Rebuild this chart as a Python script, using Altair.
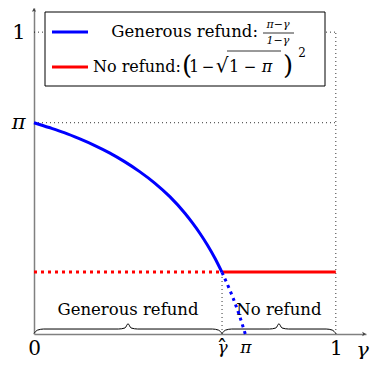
import altair as alt
import pandas as pd

# ---- values ----
PI = 0.70            # threshold pi
GAMMA_HAT = 0.623    # crossing point gamma-hat
NO_REFUND = 0.205    # (1 - sqrt(1 - pi))^2

gen_solid_x = [0.0, 0.05, 0.10, 0.15, 0.20, 0.25, 0.30, 0.35, 0.40, 0.45, 0.50, 0.525, 0.55, 0.575, 0.60, 0.623]
gen_solid_y = [0.700, 0.684, 0.667, 0.647, 0.625, 0.600, 0.571, 0.538, 0.500, 0.455, 0.400, 0.368, 0.333, 0.294, 0.250, 0.204]
gen_dot_x = [0.623, 0.65, 0.66, 0.68, 0.70]
gen_dot_y = [0.204, 0.143, 0.118, 0.063, 0.0]
no_dot_x = [0.0, GAMMA_HAT]
no_solid_x = [GAMMA_HAT, 1.0]

x_tick_values = [0.0, GAMMA_HAT, PI, 1.0]
y_tick_values = [PI, 1.0]
region_labels = ["Generous refund", "No refund"]
region_bounds = [(0.0, GAMMA_HAT), (GAMMA_HAT, 1.0)]

FONT = "DejaVu Serif"
BLUE = "#0000ff"
RED = "#ff0000"

# ---- tables ----
gen_solid = pd.DataFrame({"x": gen_solid_x, "y": gen_solid_y})
gen_dot = pd.DataFrame({"x": gen_dot_x, "y": gen_dot_y})
no_dot = pd.DataFrame({"x": no_dot_x, "y": [NO_REFUND] * 2})
no_solid = pd.DataFrame({"x": no_solid_x, "y": [NO_REFUND] * 2})

guides = pd.DataFrame({
    "x": [0.0, 1.0, 0.0, GAMMA_HAT],
    "x2": [1.0, 1.0, 1.0, GAMMA_HAT],
    "y": [1.0, 0.0, PI, 0.0],
    "y2": [1.0, 1.0, PI, NO_REFUND],
})

# brace shapes built from the region bounds
brace_rows = []
for k, (a, b) in enumerate(region_bounds):
    m = (a + b) / 2
    pts = [(a, 0.002), (a + 0.012, 0.013), (a + 0.032, 0.0165), (m - 0.032, 0.0165),
           (m - 0.01, 0.02), (m, 0.034), (m + 0.01, 0.02), (m + 0.032, 0.0165),
           (b - 0.032, 0.0165), (b - 0.012, 0.013), (b, 0.002)]
    for i, (px, py) in enumerate(pts):
        brace_rows.append({"brace": k, "o": i, "x": px, "y": py})
braces = pd.DataFrame(brace_rows)
region_text = pd.DataFrame({
    "label": region_labels,
    "x": [(a + b) / 2 for a, b in region_bounds],
    "y": [0.078, 0.078],
})

XS = alt.Scale(domain=[0, 1.1], nice=False, zero=False)
YS = alt.Scale(domain=[0, 1.08], nice=False, zero=False)

x_axis = alt.Axis(
    values=x_tick_values, ticks=False, grid=False, domainColor="#808080", domainWidth=1.5,
    labelExpr="datum.value < 0.01 ? '0' : datum.value > 0.99 ? '1' : datum.value < 0.66 ? 'γ' : 'π'",
    labelFont=FONT, labelColor="black",
    labelPadding={"condition": {"test": "datum.value > 0.01 && datum.value < 0.99", "value": 5}, "value": 4},
    labelFontSize={"condition": {"test": "datum.value > 0.01 && datum.value < 0.99", "value": 17}, "value": 20},
    labelFontStyle={"condition": {"test": "datum.value > 0.01 && datum.value < 0.99", "value": "italic"}, "value": "normal"},
    title="γ", titleFont=FONT, titleFontSize=21, titleFontStyle="italic", titleFontWeight="normal",
    titleX=328, titleY=16, titleAlign="center", titleBaseline="middle", titleColor="black",
    labelFlush=False, labelOverlap=False,
)
y_axis = alt.Axis(
    values=y_tick_values, ticks=False, grid=False, domainColor="#808080", domainWidth=1.5,
    labelExpr="datum.value > 0.9 ? '1' : 'π'",
    labelFont=FONT, labelColor="black", labelPadding=9, labelFontSize=21,
    labelFontStyle={"condition": {"test": "datum.value < 0.9", "value": "italic"}, "value": "normal"},
    title=None, labelFlush=False, labelOverlap=False,
)

base_axes = alt.Chart(pd.DataFrame({"x": [0.0], "y": [0.0]})).mark_point(opacity=0).encode(
    x=alt.X("x:Q", scale=XS, axis=x_axis),
    y=alt.Y("y:Q", scale=YS, axis=y_axis),
)

# hat over the gamma label
hat = alt.Chart(pd.DataFrame({"x": [GAMMA_HAT]})).mark_text(
    text="ˆ", font=FONT, fontSize=22, baseline="middle", color="black"
).encode(x=alt.X("x:Q", scale=XS), y=alt.value(341))

guide_layer = alt.Chart(guides).mark_rule(color="black", strokeWidth=0.8, strokeDash=[1, 3]).encode(
    x=alt.X("x:Q", scale=XS), x2="x2:Q", y=alt.Y("y:Q", scale=YS), y2="y2:Q"
)


def line(df, color, dash):
    kw = dict(color=color, strokeWidth=3, interpolate="monotone", strokeCap="butt")
    if dash:
        kw["strokeDash"] = [3, 4]
    return alt.Chart(df).mark_line(**kw).encode(
        x=alt.X("x:Q", scale=XS), y=alt.Y("y:Q", scale=YS)
    )


brace_layer = alt.Chart(braces).mark_line(color="black", strokeWidth=1, interpolate="monotone").encode(
    x=alt.X("x:Q", scale=XS), y=alt.Y("y:Q", scale=YS), detail="brace:N", order="o:Q"
)
region_layer = alt.Chart(region_text).mark_text(font=FONT, fontSize=16.5, baseline="middle").encode(
    x=alt.X("x:Q", scale=XS), y=alt.Y("y:Q", scale=YS), text="label:N"
)

# arrow heads on the axes
arrow_x = alt.Chart(pd.DataFrame({"x": [1.1], "y": [0.0]})).mark_point(
    shape="M0,0 L-1,-0.55 L-0.75,0 L-1,0.55 Z", size=60, filled=True, color="#444444", opacity=1
).encode(x=alt.X("x:Q", scale=XS), y=alt.Y("y:Q", scale=YS))
arrow_y = alt.Chart(pd.DataFrame({"x": [0.0], "y": [1.08]})).mark_point(
    shape="M0,0 L-0.55,1 L0,0.75 L0.55,1 Z", size=60, filled=True, color="#444444", opacity=1
).encode(x=alt.X("x:Q", scale=XS), y=alt.Y("y:Q", scale=YS))

# ---- hand-made legend (pixel positions in the plot frame) ----
one = alt.Data(values=[{}])
lg_box = alt.Chart(one).mark_rect(fill="white", stroke="black", strokeWidth=1).encode(
    x=alt.value(11), x2=alt.value(291), y=alt.value(4), y2=alt.value(78)
)
lg_blue = alt.Chart(one).mark_rule(color=BLUE, strokeWidth=3).encode(
    x=alt.value(18), x2=alt.value(54), y=alt.value(24)
)
lg_red = alt.Chart(one).mark_rule(color=RED, strokeWidth=3).encode(
    x=alt.value(18), x2=alt.value(54), y=alt.value(59)
)


def txt(s, x, y, size=16.5, align="center", style="normal", baseline="middle"):
    return alt.Chart(one).mark_text(
        text=s, font=FONT, fontSize=size, align=align, baseline=baseline, fontStyle=style, color="black"
    ).encode(x=alt.value(x), y=alt.value(y))


lg_t1 = txt("Generous refund:", 224, 24, align="right")
lg_num = txt("π−γ", 244, 17, size=11, style="italic")
lg_den = txt("1−γ", 244, 33, size=11, style="italic")
lg_bar = alt.Chart(one).mark_rule(color="black", strokeWidth=0.8).encode(
    x=alt.value(229), x2=alt.value(260), y=alt.value(25)
)
lg_row2 = [
    txt("No refund:", 59, 59, size=16, align="left"),
    txt("(", 153, 58, size=26),
    txt("1", 160, 59, size=16),
    txt("−", 174, 59, size=15),
    txt("√", 188, 58, size=20),
    txt("1", 200, 59, size=16),
    txt("−", 216, 59, size=15),
    txt("π", 233, 59, size=16, style="italic"),
    txt(")", 254, 58, size=26),
    txt("2", 268, 45, size=12),
]
lg_over = alt.Chart(one).mark_rule(color="black", strokeWidth=0.8).encode(
    x=alt.value(193), x2=alt.value(247), y=alt.value(43)
)

chart = alt.layer(
    base_axes, hat, guide_layer, brace_layer, region_layer,
    line(no_dot, RED, True), line(no_solid, RED, False),
    line(gen_dot, BLUE, True), line(gen_solid, BLUE, False),
    arrow_x, arrow_y,
    lg_box, lg_blue, lg_red, lg_t1, lg_num, lg_den, lg_bar,
    *lg_row2, lg_over,
).properties(
    width=332, height=326,
    autosize=alt.AutoSizeParams(type="none"),
    padding={"left": 26, "top": 0, "right": 6, "bottom": 25},
).configure_view(stroke=None)

chart.save("out.html", embed_options={"renderer": "svg", "actions": False})
